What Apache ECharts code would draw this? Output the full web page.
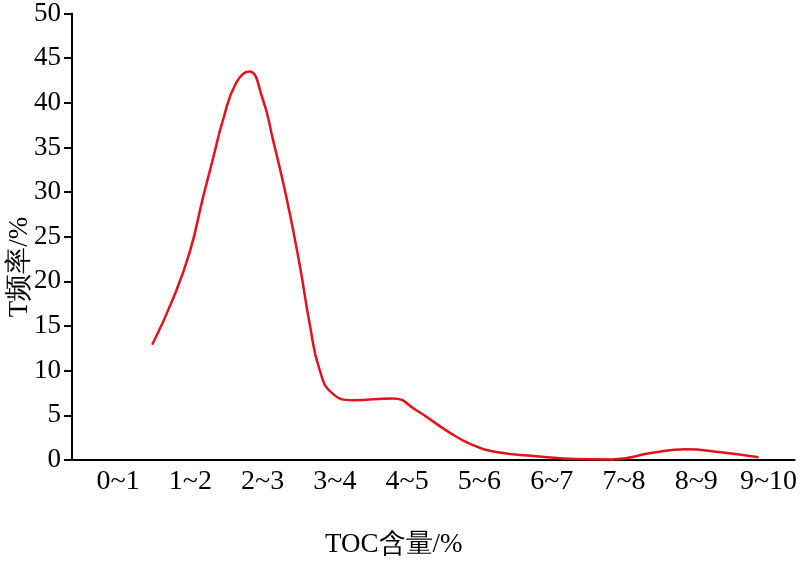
<!DOCTYPE html>
<html>
<head>
<meta charset="utf-8">
<script src="https://cdn.jsdelivr.net/npm/echarts@6/dist/echarts.min.js"></script>
<style>html,body{margin:0;padding:0;background:#fff}#c{width:800px;height:561px}</style>
</head>
<body>
<div id="c"></div>
<script>
var categories = ['0~1','1~2','2~3','3~4','4~5','5~6','6~7','7~8','8~9','9~10'];
var yTicks = [0,5,10,15,20,25,30,35,40,45,50];
var curveX = [1.11,1.40,1.63,1.81,1.95,2.09,2.27,2.45,2.64,2.78,2.97,3.15,3.29,3.43,3.61,3.89,4.44,4.76,5.22,5.54,5.87,6.46,6.97,7.47,8.03,8.49,8.95,9.5];
var curveY = [12.9,18.1,23.3,29.3,33.7,38.1,42.2,43.5,40.4,35.9,29.3,21.9,15.2,10,7.4,6.7,6.9,5.6,3.1,1.7,0.9,0.4,0.1,0.05,0.8,1.2,0.9,0.3];
var xName = 'TOC含量/%';
var yName = 'T频率/%';

var font = '"Liberation Serif","Times New Roman",serif';
var chart = echarts.init(document.getElementById('c'));
var pts = curveX.map(function(x,i){return [x, curveY[i]];});
chart.setOption({
  animation:false,
  backgroundColor:'#fff',
  grid:{left:72,right:4,top:10,bottom:101},
  xAxis:[{
    type:'category', data:categories, boundaryGap:true,
    axisLine:{lineStyle:{color:'#000',width:2}},
    axisTick:{length:7,lineStyle:{color:'#000',width:2}},
    axisLabel:{color:'#000',fontFamily:font,fontSize:28,margin:8,padding:[0,0,0,20],interval:0},
    splitLine:{show:false}
  },{
    type:'value', min:0, max:10, show:false
  }],
  yAxis:{
    type:'value', min:yTicks[0], max:yTicks[yTicks.length-1], interval:5,
    axisLine:{show:true,lineStyle:{color:'#000',width:2}},
    axisTick:{show:true,length:8,lineStyle:{color:'#000',width:2}},
    axisLabel:{color:'#000',fontFamily:font,fontSize:27,margin:11},
    splitLine:{show:false}
  },
  series:[{
    type:'line', xAxisIndex:1, data:pts, smooth:0.5, showSymbol:false,
    lineStyle:{color:'#e3121c',width:2.5}
  }],
  graphic:[
    {type:'text',left:325,top:531,style:{text:xName,font:'27px '+font,fill:'#000'}},
    {type:'text',x:20,y:267,rotation:Math.PI/2,style:{text:yName,font:'27px '+font,fill:'#000',align:'center',verticalAlign:'middle'}}
  ]
});
</script>
</body>
</html>
